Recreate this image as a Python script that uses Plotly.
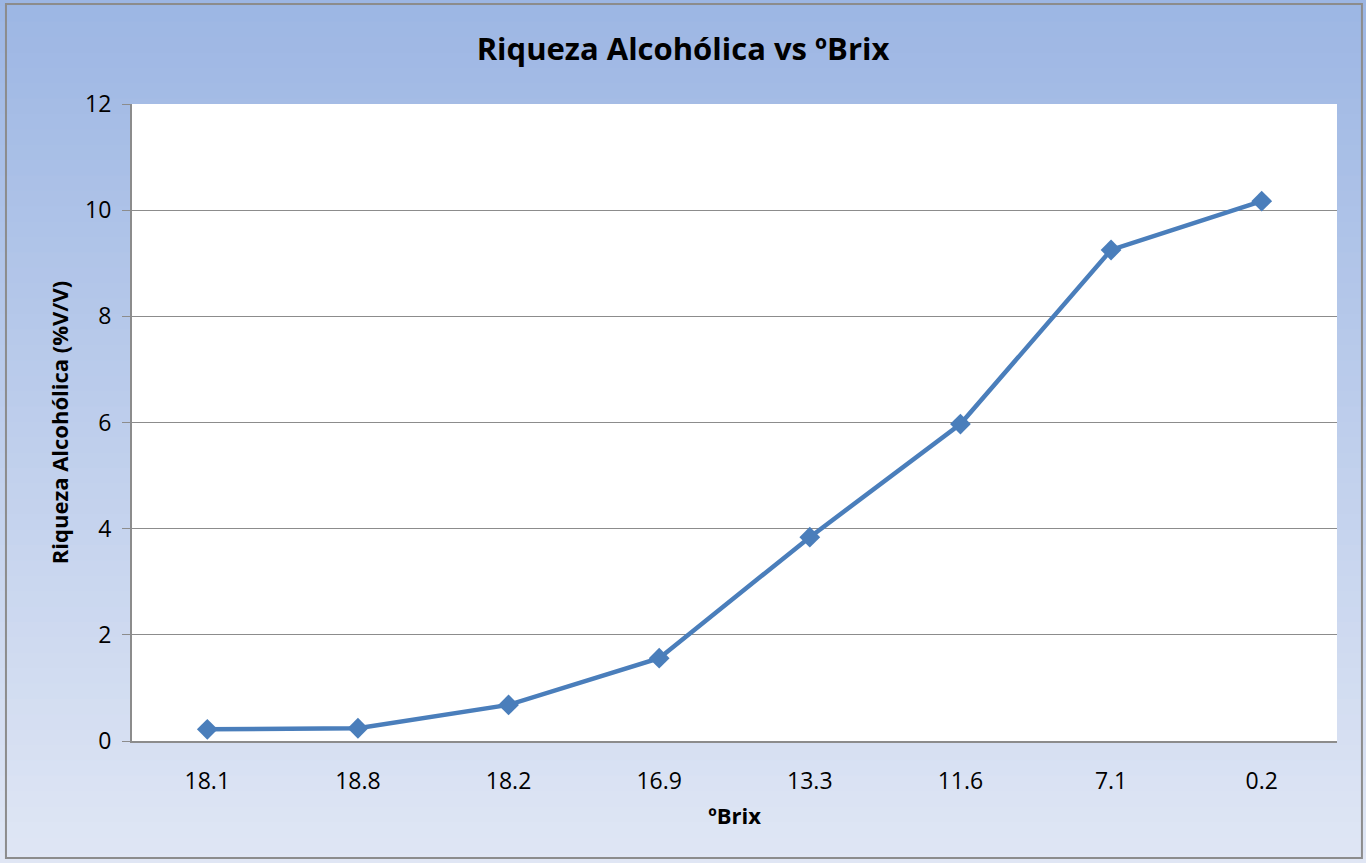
import plotly.graph_objs as go

# Datos
brix = ['18.1', '18.8', '18.2', '16.9', '13.3', '11.6', '7.1', '0.2']
riqueza = [0.22, 0.24, 0.68, 1.56, 3.84, 5.97, 9.25, 10.17]
y_ticks = [0, 2, 4, 6, 8, 10, 12]

fig = go.Figure()
fig.add_trace(go.Scatter(x=brix, y=riqueza, mode='lines+markers',
                         line=dict(color='#4A7EBB', width=4.5),
                         marker=dict(symbol='diamond', size=16, color='#4A7EBB'),
                         showlegend=False))

# Fondo degradado (de azul arriba a azul claro abajo)
top = (155, 181, 227)
bot = (226, 232, 245)
n = 60
shapes = []
for i in range(n):
    t = i / (n - 1)
    c = tuple(round(top[k] + (bot[k] - top[k]) * t) for k in range(3))
    shapes.append(dict(type='rect', xref='paper', yref='paper', layer='below',
                       x0=-0.2, x1=1.1, y0=1.2 - (i + 1) * 1.45 / n, y1=1.2 - i * 1.45 / n + 0.002,
                       fillcolor='rgb(%d,%d,%d)' % c, line=dict(width=0)))
# area de trazado blanca
shapes.append(dict(type='rect', xref='paper', yref='paper', layer='below',
                   x0=0, x1=1, y0=0, y1=1, fillcolor='white', line=dict(width=0)))
# borde exterior
shapes.append(dict(type='rect', xref='paper', yref='paper', layer='above',
                   x0=-0.1046, x1=1.0207, y0=-0.1837, y1=1.157,
                   line=dict(color='#8c8c8c', width=2), fillcolor='rgba(0,0,0,0)'))

font = 'Open Sans, sans-serif'
fig.update_layout(
    width=1366, height=863,
    margin=dict(l=132, r=29, t=104, b=122),
    paper_bgcolor='rgb(200,212,236)',
    plot_bgcolor='white',
    shapes=shapes,
    font=dict(family=font, size=23, color='black'),
    title=dict(text='<b>Riqueza Alcohólica vs ºBrix</b>', x=0.5, xanchor='center',
               y=1 - 49 / 863, yanchor='middle', font=dict(size=31, family=font)),
    xaxis=dict(type='category', range=[-0.5, len(brix) - 0.5], showgrid=False,
               showline=True, linecolor='#8c8c8c',
               linewidth=2, ticks='', ticklabelstandoff=18,
               title=dict(text='<b>ºBrix</b>', standoff=14, font=dict(size=22))),
    yaxis=dict(range=[0, 12], tickvals=y_ticks, showgrid=True, gridcolor='#8c8c8c',
               gridwidth=1, showline=True, linecolor='#8c8c8c', linewidth=2,
               ticks='outside', ticklen=8, tickcolor='#8c8c8c', zeroline=False,
               ticklabelstandoff=6,
               title=dict(text='<b>Riqueza Alcohólica (%V/V)</b>', standoff=10,
                          font=dict(size=22))),
)

fig.write_html("out.html", config={'displayModeBar': False},
               post_script="document.body.style.margin='0';")
